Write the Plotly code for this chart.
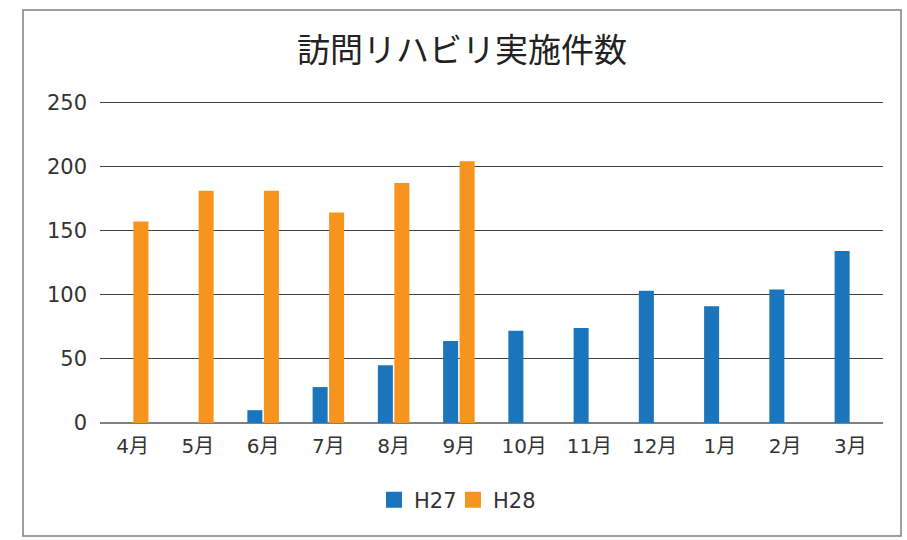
import plotly.graph_objects as go

months = ["4月", "5月", "6月", "7月", "8月", "9月", "10月", "11月", "12月", "1月", "2月", "3月"]
h27 = [None, None, 10, 28, 45, 64, 72, 74, 103, 91, 104, 134]
h28 = [157, 181, 181, 164, 187, 204, None, None, None, None, None, None]
y_ticks = [0, 50, 100, 150, 200, 250]

W, H = 907, 540
L, R, T, B = 100, 24, 101, 117
pw, ph = W - L - R, H - T - B

def px_x(x):
    return (x - L) / pw

def px_y(y):
    return (H - B - y) / ph

font = "DejaVu Sans, Noto Sans CJK JP, sans-serif"
jfont = "Noto Sans CJK JP, sans-serif"
blue, orange = "#1B75BC", "#F7941D"

fig = go.Figure()
fig.add_bar(name="H27", x=months, y=h27, marker_color=blue, marker_line_width=0,
            showlegend=False, legendgroup="a")
fig.add_bar(name="H28", x=months, y=h28, marker_color=orange, marker_line_width=0,
            showlegend=False, legendgroup="b")
# legend entries with larger square symbols
fig.add_scatter(name="H27", x=[months[0]], y=[None], mode="markers",
                marker=dict(symbol="square", size=16, color=blue), legendgroup="a")
fig.add_scatter(name="H28", x=[months[0]], y=[None], mode="markers",
                marker=dict(symbol="square", size=16, color=orange), legendgroup="b")
# empty spacer entry so the last legend label is not clipped
fig.add_scatter(name=" ", x=[months[0]], y=[None], mode="markers",
                marker=dict(symbol="square", size=1, color="rgba(0,0,0,0)"),
                legendgroup="c", hoverinfo="skip")

fig.update_layout(
    width=W, height=H,
    margin=dict(l=L, r=R, t=T, b=B),
    paper_bgcolor="white", plot_bgcolor="white",
    barmode="group", bargap=0.494, bargroupgap=0.09,
    font=dict(family=font, color="#333333", size=17),
    title=dict(text="訪問リハビリ実施件数", xref="container", x=462 / W, xanchor="center",
               y=1 - 50 / H, yanchor="middle",
               font=dict(size=33, color="#222222", family=jfont)),
    legend=dict(orientation="h", x=px_x(374), xanchor="left",
                y=px_y(500), yanchor="middle",
                font=dict(size=21, color="#333333", family=font), itemwidth=30,
                traceorder="normal", entrywidth=34, tracegroupgap=0,
                bgcolor="rgba(0,0,0,0)"),
    xaxis=dict(range=[-0.5, len(months) - 0.5], showgrid=False, showline=False,
               ticks="", ticklabelstandoff=9, tickfont=dict(size=20)),
    yaxis=dict(range=[0, 251], tickvals=y_ticks, showgrid=True,
               gridcolor="#404040", gridwidth=1, zeroline=True,
               zerolinecolor="#808080", zerolinewidth=1.5,
               ticks="", ticklabelstandoff=12, tickfont=dict(size=21)),
    shapes=[dict(type="rect", xref="paper", yref="paper",
                 x0=px_x(23), x1=px_x(901), y0=px_y(536), y1=px_y(10),
                 line=dict(color="#808080", width=1.5), layer="below")],
)

fig.write_html("out.html", config={"displayModeBar": False},
               post_script="document.body.style.margin='0';")
